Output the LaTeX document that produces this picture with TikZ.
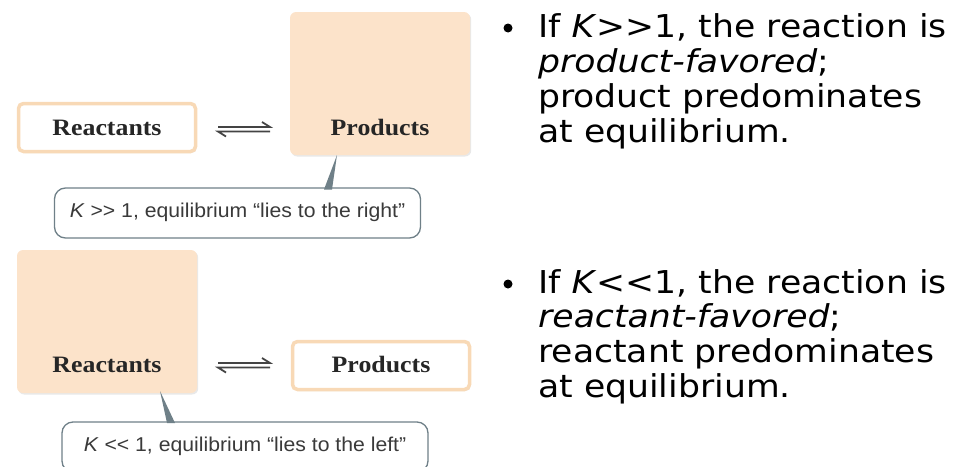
\documentclass[tikz,border=0pt]{standalone}
\usepackage{fontspec}
\usetikzlibrary{shadows}
\newfontfamily\verd[FakeStretch=1.1]{DejaVu Sans}
\newfontfamily\lsans[FakeStretch=1.06]{Liberation Sans}
\newfontfamily\lserif[FakeStretch=1.1]{Liberation Serif}
\definecolor{peach}{HTML}{FCE3CA}
\definecolor{peachedge}{HTML}{F8D9B6}
\definecolor{calledge}{HTML}{6F8088}
\definecolor{calltext}{HTML}{3A3A3A}
\definecolor{arrowgray}{HTML}{444444}
\begin{document}
\begin{tikzpicture}[x=1pt,y=-1pt,
  shad/.style={drop shadow={opacity=0.18, shadow xshift=1.2pt, shadow yshift=-1.5pt}},
  smallbox/.style={draw=peachedge, line width=3.5pt, fill=white, rounded corners=5pt, minimum width=177pt, minimum height=48pt, inner sep=0pt, shad},
  bigbox/.style={fill=peach, rounded corners=6pt, minimum width=180pt, minimum height=143pt, inner sep=0pt, shad},
  lbl/.style={anchor=base, font=\lserif\bfseries\fontsize{23.5}{25}\selectfont, text=black!85},
  callout/.style={draw=calledge, line width=1.3pt, fill=white, rounded corners=11pt, minimum width=366pt, minimum height=50pt, inner sep=0pt},
  calltxt/.style={font=\lsans\fontsize{20}{22}\selectfont, text=calltext},
  wedge/.style={fill=calledge},
  eqline/.style={draw=arrowgray, line width=1.8pt},
  btxt/.style={anchor=base west, font=\verd\fontsize{31.5}{33}\selectfont, text=black, inner sep=0pt},
]
\useasboundingbox (0,0) rectangle (956,466);
\clip (0,0) rectangle (956,466);

% ---------- top: K >> 1 ----------
\node[smallbox] (r1) at (107,127.5) {};
\node[lbl] (r1t) at (107,135) {Reactants};
\node[bigbox] (p1) at (380,83.5) {};
\node[lbl] (p1t) at (380,135) {Products};
\coordinate (e1a) at (218,127);
\coordinate (e1b) at (270,127);
\coordinate (e1c) at (218,131.5);
\coordinate (e1d) at (270,131.5);
\draw[eqline] (e1a) -- (e1b) -- ++(-8,-5);
\draw[eqline] (e1d) -- (e1c) -- ++(8,5);
\node[callout] (c1) at (237.5,213) {};
\node[calltxt] (c1t) at (237.5,212) {\textit{K} >> 1, equilibrium “lies to the right”};
\coordinate (w1a) at (337,155);
\coordinate (w1b) at (324,189.5);
\coordinate (w1c) at (332,189.5);
\fill[wedge] (w1a) -- (w1b) -- (w1c) -- cycle;

% ---------- bottom: K << 1 ----------
\node[bigbox] (r2) at (107,321.5) {};
\node[lbl] (r2t) at (107,372) {Reactants};
\node[smallbox] (p2) at (381,365.5) {};
\node[lbl] (p2t) at (381,372) {Products};
\coordinate (e2a) at (218,363);
\coordinate (e2b) at (270,363);
\coordinate (e2c) at (218,367.5);
\coordinate (e2d) at (270,367.5);
\draw[eqline] (e2a) -- (e2b) -- ++(-8,-5);
\draw[eqline] (e2d) -- (e2c) -- ++(8,5);
\node[callout] (c2) at (245,447) {};
\node[calltxt] (c2t) at (245,446) {\textit{K} << 1, equilibrium “lies to the left”};
\coordinate (w2a) at (160,391);
\coordinate (w2b) at (167,423);
\coordinate (w2c) at (175,423);
\fill[wedge] (w2a) -- (w2b) -- (w2c) -- cycle;

% ---------- right text ----------
\fill (508,28) circle (4.5pt);
\node[btxt] (a1) at (538,37) {If \textit{K}>>1, the reaction is};
\node[btxt] (a2) at (538,72) {\textit{product-favored};};
\node[btxt] (a3) at (538,107) {product predominates};
\node[btxt] (a4) at (538,142) {at equilibrium.};

\fill (508,284) circle (4.5pt);
\node[btxt] (b1) at (538,293) {If \textit{K}<<1, the reaction is};
\node[btxt] (b2) at (538,327) {\textit{reactant-favored};};
\node[btxt] (b3) at (538,362) {reactant predominates};
\node[btxt] (b4) at (538,397) {at equilibrium.};
\end{tikzpicture}
\end{document}
